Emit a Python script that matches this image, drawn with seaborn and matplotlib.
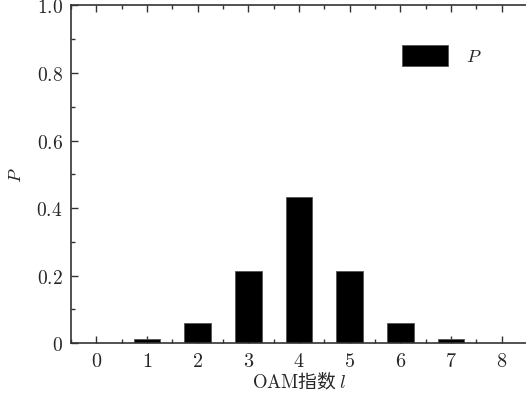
import numpy as np
import pandas as pd
import seaborn as sns
import matplotlib.pyplot as plt
from matplotlib.patches import Patch
from matplotlib.ticker import MultipleLocator

# OAM mode index and probability
l_index = [0, 1, 2, 3, 4, 5, 6, 7, 8]
prob = [0.0, 0.012, 0.059, 0.213, 0.432, 0.213, 0.059, 0.012, 0.0]
y_ticks = [0, 0.2, 0.4, 0.6, 0.8, 1.0]
y_tick_labels = ['0', '0.2', '0.4', '0.6', '0.8', '1.0']

df = pd.DataFrame({'l': l_index, 'P': prob})

sns.set_style('ticks')
plt.rcParams['mathtext.fontset'] = 'cm'
plt.rcParams['font.family'] = ['DejaVu Serif', 'Noto Sans CJK SC']

fig = plt.figure(figsize=(5.26, 4.02), dpi=100)
ax = fig.add_axes([0.135, 0.144, 0.867, 0.84])

sns.barplot(data=df, x='l', y='P', color='black', width=0.53,
            edgecolor='#555555', linewidth=0.6, saturation=1, ax=ax)

ax.set_xlim(-0.5, 8.5)
ax.set_ylim(0, 1.0)
ax.set_xticks(l_index)
ax.set_xticklabels([f'${v}$' for v in l_index], fontsize=14.5)
ax.xaxis.set_minor_locator(MultipleLocator(0.5))
ax.set_yticks(y_ticks)
ax.set_yticklabels([f'${t}$' for t in y_tick_labels], fontsize=14)
ax.yaxis.set_minor_locator(MultipleLocator(0.1))

ax.tick_params(which='both', direction='in', top=True, right=False,
               color='#333333', width=1.0)
ax.tick_params(which='major', length=5, pad=6)
ax.tick_params(which='minor', length=3)

for side in ['left', 'bottom', 'top']:
    ax.spines[side].set_visible(True)
    ax.spines[side].set_color('#333333')
    ax.spines[side].set_linewidth(1.2)
ax.spines['right'].set_visible(False)

ax.set_xlabel(r'$\mathrm{OAM}$指数 $l$', fontsize=13.5,
              family=['Noto Sans CJK SC'], labelpad=1)
ax.set_ylabel('$P$', fontsize=13, labelpad=8)

handle = Patch(facecolor='black', edgecolor='#555555', linewidth=0.6)
ax.legend([handle], ['$P$'], loc='upper right', frameon=False, fontsize=13,
          handlelength=2.55, handleheight=1.35, handletextpad=1.0,
          bbox_to_anchor=(0.937, 0.93))

fig.savefig('out.png', dpi=100)
